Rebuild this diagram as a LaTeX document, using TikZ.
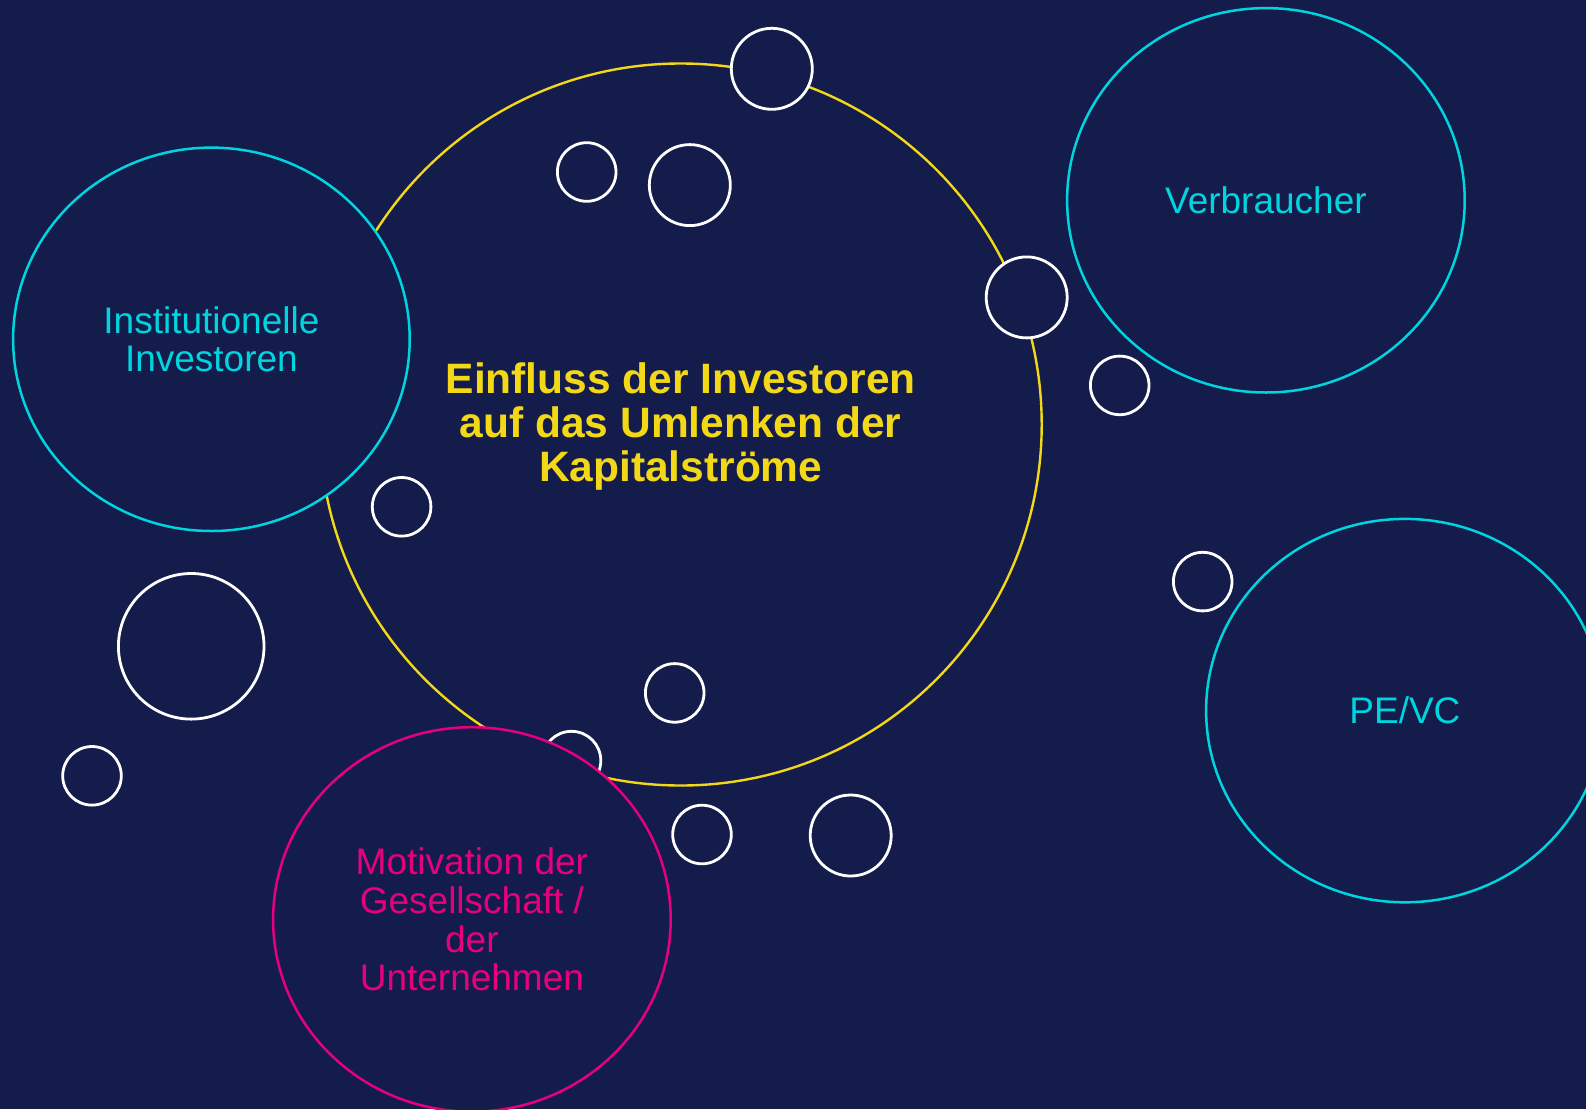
\documentclass[tikz,border=0pt]{standalone}
\usepackage{fontspec}
\setmainfont{Liberation Sans}
\usetikzlibrary{shapes.geometric}
\definecolor{bgc}{RGB}{20,28,76}
\definecolor{cyanc}{RGB}{0,212,222}
\definecolor{yelc}{RGB}{242,216,22}
\definecolor{magc}{RGB}{230,0,126}
\tikzset{
  bubble/.style={circle, draw=white, line width=2.8pt, fill=bgc, inner sep=0pt},
  big/.style={ellipse, fill=bgc, line width=2.5pt, inner sep=0pt, align=center,
    font=\fontsize{37}{38.8}\selectfont},
  bigcyan/.style={big, draw=cyanc, text=cyanc},
  bigmag/.style={big, draw=magc, text=magc},
  central/.style={circle, draw=yelc, fill=bgc, line width=2.4pt, inner sep=0pt, align=center,
    text=yelc, font=\fontsize{42.5}{44}\selectfont\bfseries},
}
\begin{document}
\begin{tikzpicture}[x=1pt,y=-1pt]
\useasboundingbox (0,0) rectangle (1586,1109);
\clip (0,0) rectangle (1586,1109);
\fill[bgc] (0,0) rectangle (1586,1109);

\node[central, minimum size=722pt] (core) at (680.7,424.5) {};
\node[text=yelc, font=\fontsize{42.5}{44}\selectfont\bfseries, align=center, inner sep=0pt]
  (title) at (680.7,426.5)
  {Einfluss der Investoren\\auf das Umlenken der\\Kapitalströme};

\node[bubble, minimum size=81pt] (b1) at (771.8,68.8) {};
\node[bubble, minimum size=58.6pt] (b2) at (586.7,172) {};
\node[bubble, minimum size=81pt] (b3) at (689.8,185.1) {};
\node[bubble, minimum size=81pt] (b4) at (1026.7,297.4) {};
\node[bubble, minimum size=58.6pt] (b5) at (1119.7,385.4) {};
\node[bubble, minimum size=58.6pt] (b6) at (401.6,506.8) {};
\node[bubble, minimum size=145.6pt] (b7) at (191.2,646.3) {};
\node[bubble, minimum size=58.6pt] (b8) at (92,775.8) {};
\node[bubble, minimum size=58.6pt] (b9) at (674.7,692.9) {};
\node[bubble, minimum size=58.6pt] (b10) at (571.5,760.6) {};
\node[bubble, minimum size=58.6pt] (b11) at (702,834.5) {};
\node[bubble, minimum size=81pt] (b12) at (850.7,835.5) {};
\node[bubble, minimum size=58.6pt] (b13) at (1202.7,581.6) {};

\node[bigcyan, minimum width=396.6pt, minimum height=383.4pt] (inst) at (211.4,339.3)
  {Institutionelle\\Investoren};
\node[bigcyan, minimum width=397.6pt, minimum height=384.4pt] (verb) at (1265.9,200.3)
  {Verbraucher};
\node[bigcyan, minimum width=397.6pt, minimum height=383.4pt] (pevc) at (1404.9,710.6)
  {PE/VC};
\node[bigmag, minimum width=397.6pt, minimum height=384.4pt] (mot) at (471.9,919.4)
  {Motivation der\\Gesellschaft /\\der\\Unternehmen};
\end{tikzpicture}
\end{document}
